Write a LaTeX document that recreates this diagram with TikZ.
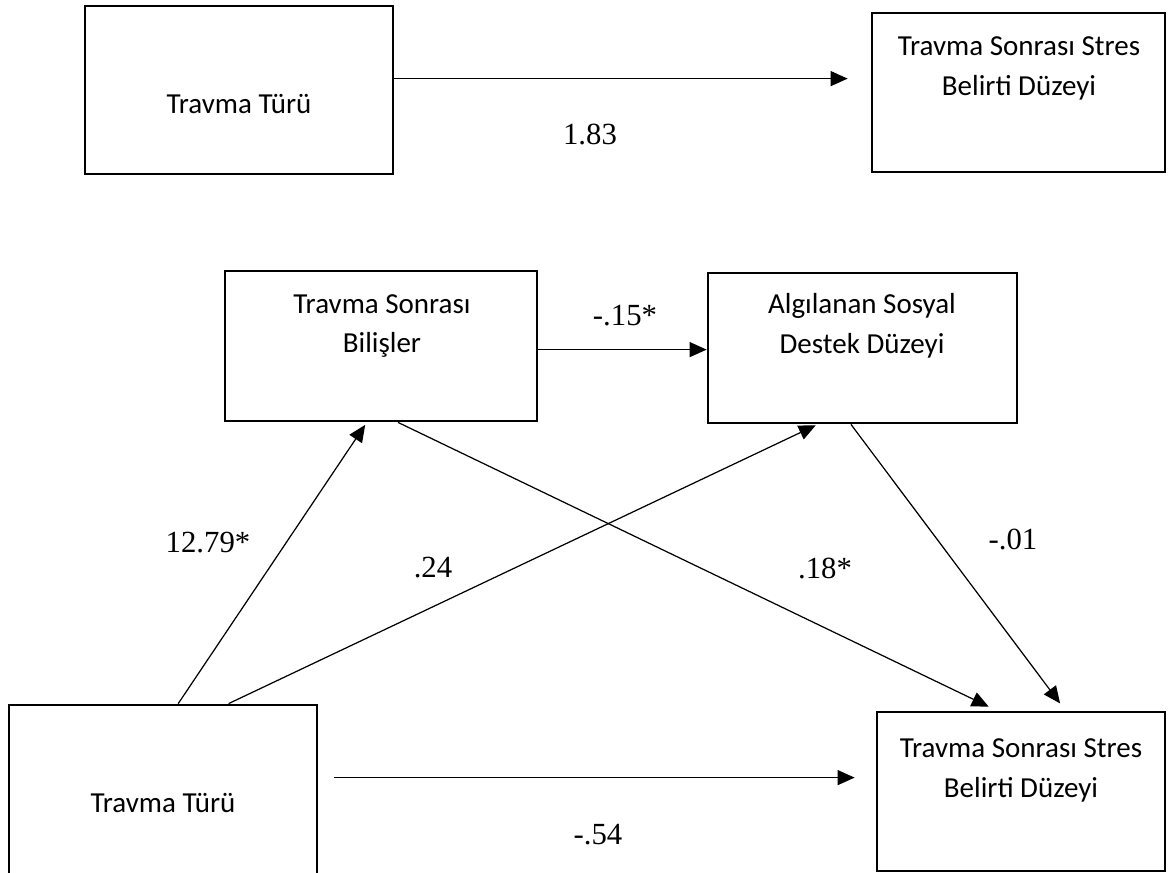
\documentclass[tikz,border=0pt]{standalone}
\usepackage{fontspec}
\setmainfont{Liberation Serif}
\newfontfamily\boxfont{Carlito}
\usetikzlibrary{arrows.meta,calc}
\begin{document}
\begin{tikzpicture}[x=0.02cm,y=-0.02cm,
  box/.style={draw, line width=1.6pt, rectangle, inner sep=0pt},
  boxtxt/.style={font=\boxfont\fontsize{16.5}{22.7}\selectfont, align=center, inner sep=0pt},
  lbl/.style={font=\fontsize{17.5}{20}\selectfont, inner sep=0pt},
  arr/.style={line width=0.7pt, -{Triangle[length=0.34cm,width=0.3cm]}}]
\useasboundingbox (0,0) rectangle (1171,873);
% boxes
\node[box, minimum width=6.16cm, minimum height=3.36cm] (A) at (239,90) {};
\node[box, minimum width=5.86cm, minimum height=3.18cm] (B) at (1018.5,92.5) {};
\node[box, minimum width=6.24cm, minimum height=3.0cm] (C) at (381,346) {};
\node[box, minimum width=6.18cm, minimum height=3.0cm] (D) at (862.5,348) {};
\node[box, minimum width=6.16cm, minimum height=3.6cm] (E) at (163,795) {};
\node[box, minimum width=5.76cm, minimum height=3.18cm] (F) at (1021,791.5) {};
% texts
\node[boxtxt] (At) at (239,104) {Travma Türü};
\node[boxtxt] (Bt) at (1019,68) {Travma Sonrası Stres\\Belirti Düzeyi};
\node[boxtxt] (Ct) at (382,326) {Travma Sonrası\\Bilişler};
\node[boxtxt] (Dt) at (862,326) {Algılanan Sosyal\\Destek Düzeyi};
\node[boxtxt] (Et) at (163,803) {Travma Türü};
\node[boxtxt] (Ft) at (1021,770) {Travma Sonrası Stres\\Belirti Düzeyi};
% connectors
\draw[arr, shorten >=0.46cm] ($(A.north east)+(0,74)$) coordinate (a1) -- (B.west |- a1);
\draw[arr] ($(C.north east)+(0,80)$) coordinate (c1) -- (D.west |- c1);
\draw[arr, shorten >=0.42cm] ($(E.north east)+(16,74)$) coordinate (e1) -- (F.west |- e1);
\draw[arr, shorten >=0.06cm] ($(E.north west)!0.549!(E.north east)$) -- ($(C.south west)!0.455!(C.south east)$);
\draw[arr, shorten >=0.04cm] ($(E.north west)!0.711!(E.north east)$) -- ($(D.south west)!0.356!(D.south east)$);
\draw[arr, shorten >=0.18cm] ($(C.south west)!0.554!(C.south east)$) -- ($(F.north west)!0.417!(F.north east)$);
\draw[arr, shorten >=0.18cm] ($(D.south west)!0.463!(D.south east)$) -- ($(F.north west)!0.653!(F.north east)$);
% labels
\node[lbl] (l1) at (590,134) {1.83};
\node[lbl] (l2) at (625,316) {-.15*};
\node[lbl] (l3) at (208,543) {12.79*};
\node[lbl] (l4) at (433,568) {.24};
\node[lbl] (l5) at (825,568) {.18*};
\node[lbl] (l6) at (1013,539) {-.01};
\node[lbl] (l7) at (598,835) {-.54};
\end{tikzpicture}
\end{document}
